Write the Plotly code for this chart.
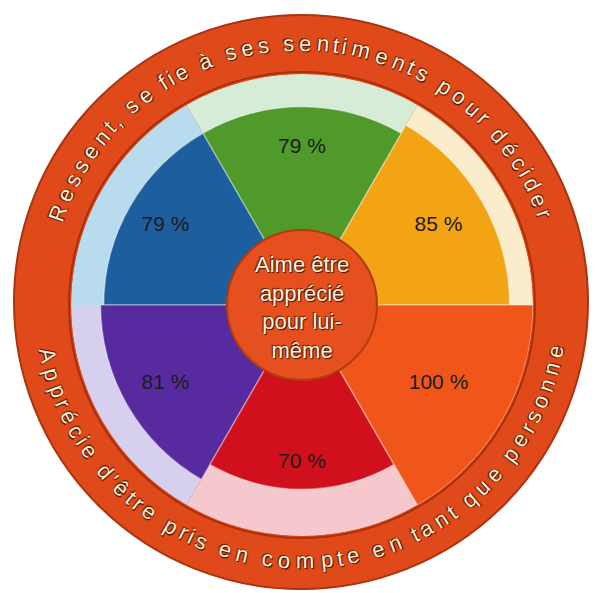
import math
import plotly.graph_objects as go

# ---------------- data ----------------
categories = ["Jaune", "Vert", "Bleu", "Violet", "Rouge", "Orange"]
values = [85, 79, 79, 81, 70, 100]
value_labels = [f"{v} %" for v in values]
bar_colors = ["#f2a414", "#4f9a2b", "#1c5e9e", "#582aa0", "#d0101c", "#f0561a"]
bg_colors = ["#fbeccb", "#d6ecd6", "#b8dced", "#d6cfee", "#f4c8cd", "#f7c3a8"]
ring_top_text = "Ressent, se fie à ses sentiments pour décider"
ring_bottom_text = "Apprécie d'être pris en compte en tant que personne"
center_lines = ["Aime être", "apprécié", "pour lui-", "même"]

# ---------------- geometry (pixels) ----------------
W, H = 595, 593
CX, CY = 302, 305          # centre of the polar chart
R_POLAR = 231              # radius of the 100 % bars
HOLE = 75                  # radius of the central disc
RCX, RCY = 301, 302        # centre of the outer ring
R_RING_OUT = 287
R_TEXT = 259


def px(x):
    return x / W


def py(y):
    return 1 - y / H


n = len(categories)
sector = 360 / n
thetas = [sector / 2 + sector * i for i in range(n)]
full_scale = 100

fig = go.Figure()

fig.add_trace(go.Barpolar(
    r=[full_scale] * n, theta=thetas, width=[sector] * n,
    marker=dict(color=bg_colors, line=dict(width=0)),
    hoverinfo="skip", showlegend=False,
))
fig.add_trace(go.Barpolar(
    r=values, theta=thetas, width=[sector] * n,
    marker=dict(color=bar_colors, line=dict(color="rgba(255,255,255,0.35)", width=1.5)),
    customdata=categories, showlegend=False,
))
fig.add_trace(go.Scatterpolar(
    r=[53] * n, theta=thetas, mode="text", text=value_labels,
    textfont=dict(family="Arial, Liberation Sans, sans-serif", size=21, color="#1e1a1a"),
    hoverinfo="skip", showlegend=False,
))

shapes = [
    dict(type="circle", xref="paper", yref="paper", layer="below",
         x0=px(RCX - R_RING_OUT), x1=px(RCX + R_RING_OUT),
         y0=py(RCY + R_RING_OUT), y1=py(RCY - R_RING_OUT),
         fillcolor="#e04a1a", line=dict(color="#a9340f", width=2)),
    dict(type="circle", xref="paper", yref="paper", layer="below",
         x0=px(CX - R_POLAR - 2), x1=px(CX + R_POLAR + 2),
         y0=py(CY + R_POLAR + 2), y1=py(CY - R_POLAR - 2),
         fillcolor="rgba(0,0,0,0)", line=dict(color="#a8300c", width=2)),
    dict(type="circle", xref="paper", yref="paper", layer="above",
         x0=px(CX - HOLE), x1=px(CX + HOLE),
         y0=py(CY + HOLE), y1=py(CY - HOLE),
         fillcolor="#e6501e", line=dict(color="#b23a10", width=2)),
]

# ---------------- curved ring text ----------------
WIDTHS = {" ": 278, ",": 278, "'": 191, "-": 333, "c": 500, "s": 500, "f": 278,
          "i": 222, "l": 222, "j": 222, "t": 278, "r": 333, "m": 833, "w": 722,
          "A": 667, "R": 722}
RING_FONT = 22
OUTLINE = "1px 1px 1px #3c1000, -1px -1px 1px #5a1a00"


def char_w(ch):
    return WIDTHS.get(ch, 556) / 1000 * RING_FONT


annotations = []


def place_text(text, start_deg, end_deg, top):
    ws = [char_w(c) for c in text]
    centers = []
    acc = 0
    for w in ws:
        centers.append(acc + w / 2)
        acc += w
    first, last = centers[0], centers[-1]
    for ch, c in zip(text, centers):
        if ch == " ":
            continue
        f = (c - first) / (last - first)
        th = start_deg + (end_deg - start_deg) * f
        x = RCX + R_TEXT * math.cos(math.radians(th))
        y = RCY - R_TEXT * math.sin(math.radians(th))
        ang = (90 - th) if top else (270 - th)
        annotations.append(dict(
            x=px(x), y=py(y), xref="paper", yref="paper", text=ch,
            showarrow=False, textangle=ang, xanchor="center", yanchor="middle",
            font=dict(family="Arial, Liberation Sans, sans-serif", size=RING_FONT,
                      color="#fbf0d8", shadow=OUTLINE),
        ))


place_text(ring_top_text, 160, 20, True)
place_text(ring_bottom_text, 192, 349, False)

annotations.append(dict(
    x=px(CX), y=py(CY + 2), xref="paper", yref="paper",
    text="<br>".join(center_lines), showarrow=False,
    xanchor="center", yanchor="middle",
    font=dict(family="Arial, Liberation Sans, sans-serif", size=22,
              color="#fcf2dc", shadow=OUTLINE),
))

fig.update_layout(
    width=W, height=H,
    margin=dict(l=0, r=0, t=0, b=0),
    paper_bgcolor="white",
    showlegend=False,
    polar=dict(
        domain=dict(x=[px(CX - R_POLAR), px(CX + R_POLAR)],
                    y=[py(CY + R_POLAR), py(CY - R_POLAR)]),
        bgcolor="rgba(0,0,0,0)",
        hole=HOLE / R_POLAR,
        barmode="overlay",
        bargap=0,
        radialaxis=dict(range=[0, full_scale], visible=False, showgrid=False),
        angularaxis=dict(visible=False, showgrid=False, direction="counterclockwise", rotation=0),
    ),
    shapes=shapes,
    annotations=annotations,
)

fig.write_html("out.html", config={"displayModeBar": False},
               post_script="document.body.style.margin='0';")
